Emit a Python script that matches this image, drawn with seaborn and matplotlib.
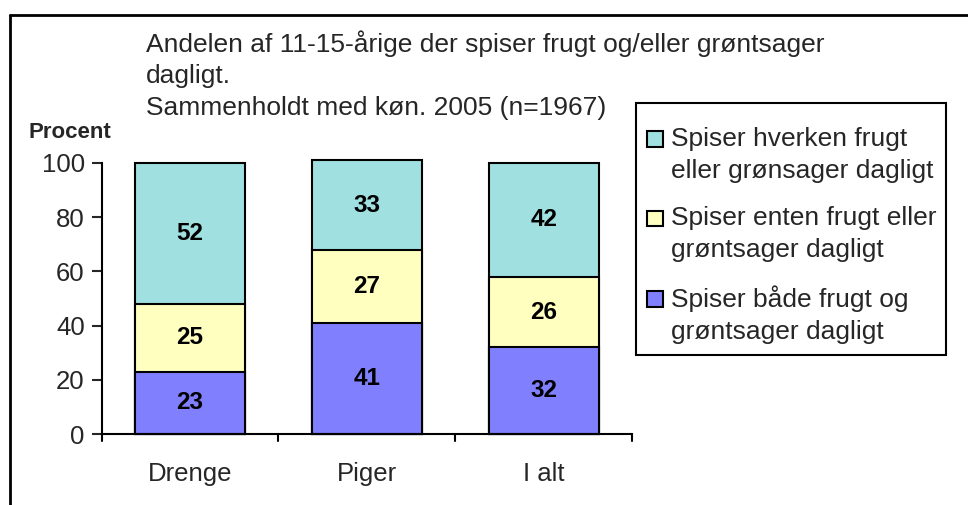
import matplotlib
matplotlib.use("Agg")
import matplotlib.pyplot as plt
from matplotlib.lines import Line2D
from matplotlib.patches import Patch, Rectangle
from matplotlib.legend_handler import HandlerPatch
import seaborn as sns
import pandas as pd
import numpy as np

categories = ["Drenge", "Piger", "I alt"]
both_daily = [23, 41, 32]
either_daily = [25, 27, 26]
neither_daily = [52, 33, 42]
series_labels = [
    "Spiser både frugt og\ngrøntsager dagligt",
    "Spiser enten frugt eller\ngrøntsager dagligt",
    "Spiser hverken frugt\neller grønsager dagligt",
]
series_colors = ["#8080FF", "#FFFFC0", "#A0E0E0"]
y_ticks = [0, 20, 40, 60, 80, 100]
title = "Andelen af 11-15-årige der spiser frugt og/eller grøntsager\ndagligt.\nSammenholdt med køn. 2005 (n=1967)"

sns.set_style("white")
plt.rcParams["font.family"] = ["Liberation Sans", "DejaVu Sans"]

layers = [both_daily, either_daily, neither_daily]
cum = np.cumsum(np.array(layers), axis=0)


class TopAlignedPatch(HandlerPatch):
    """Square legend swatch aligned with the first line of a two-line label."""

    def create_artists(self, legend, orig_handle, xdescent, ydescent,
                       width, height, fontsize, trans):
        size = 0.6 * fontsize
        p = Rectangle((-xdescent - 0.38 * fontsize, -ydescent + 0.62 * fontsize),
                      size, size,
                      facecolor=orig_handle.get_facecolor(),
                      edgecolor=orig_handle.get_edgecolor(),
                      linewidth=orig_handle.get_linewidth(), transform=trans)
        return [p]


fig = plt.figure(figsize=(9.68, 5.05), dpi=100)
ax = fig.add_axes([101.5 / 968, 1 - 434 / 505, 531 / 968, 271 / 505])

# stacked bars: draw cumulative totals from the top layer down
for i in range(len(layers) - 1, -1, -1):
    df = pd.DataFrame({"cat": categories, "val": cum[i]})
    sns.barplot(data=df, x="cat", y="val", ax=ax, color=series_colors[i],
                saturation=1, width=0.62, edgecolor="black", linewidth=1.5,
                errorbar=None)
for p in ax.patches:
    p.set_clip_on(False)

# segment value labels
for i, layer in enumerate(layers):
    for j, v in enumerate(layer):
        base = cum[i][j] - v
        ax.text(j, base + v / 2, str(v), ha="center", va="center",
                fontsize=17.5, fontweight="bold", color="black")

ax.set_xlim(-0.5, 2.5)
ax.set_ylim(0, 100)
ax.set_yticks(y_ticks)
ax.set_xlabel("")
ax.set_ylabel("")
for s in ["top", "right"]:
    ax.spines[s].set_visible(False)
for s in ["left", "bottom"]:
    ax.spines[s].set_color("black")
    ax.spines[s].set_linewidth(1.5)
ax.tick_params(axis="y", direction="out", length=7, width=1.5, labelsize=18.5,
               left=True, pad=5)
ax.tick_params(axis="x", bottom=False, labelsize=18.5, pad=17)
# x-axis tick marks at category boundaries
for xb in [-0.5, 0.5, 1.5, 2.5]:
    ax.plot([xb, xb], [0, -2.6], color="black", lw=1.5, clip_on=False)

fig.text(146 / 968, 1 - 30 / 505, title, ha="left", va="top", fontsize=19,
         linespacing=1.4)
fig.text(70 / 968, 1 - 133 / 505, "Procent", ha="center", va="center",
         fontsize=16, fontweight="bold")

handles = [Patch(facecolor=series_colors[i], edgecolor="black", linewidth=1.5)
           for i in range(2, -1, -1)]
labels = [series_labels[i] for i in range(2, -1, -1)]
leg = fig.legend(handles, labels, loc="upper left",
                 bbox_to_anchor=(636 / 968, 1 - 106 / 505),
                 fontsize=19, frameon=False,
                 handlelength=0.45, handleheight=0.6, handletextpad=0.08,
                 labelspacing=0.9, borderpad=0.8, borderaxespad=0,
                 handler_map={Patch: TopAlignedPatch()})
for t in leg.get_texts():
    t.set_linespacing(1.4)

# legend box
fig.add_artist(Rectangle((636 / 968, 1 - 355 / 505), 310 / 968, 252 / 505,
                         fill=False, edgecolor="black", linewidth=1.5,
                         transform=fig.transFigure))

# outer frame (open at right and bottom)
fig.add_artist(Line2D([9.5 / 968, 1.0], [1 - 14.5 / 505] * 2, color="black",
                      lw=2, transform=fig.transFigure))
fig.add_artist(Line2D([9.5 / 968] * 2, [0, 1 - 14.5 / 505], color="black",
                      lw=2, transform=fig.transFigure))

fig.savefig("out.png", dpi=100)
